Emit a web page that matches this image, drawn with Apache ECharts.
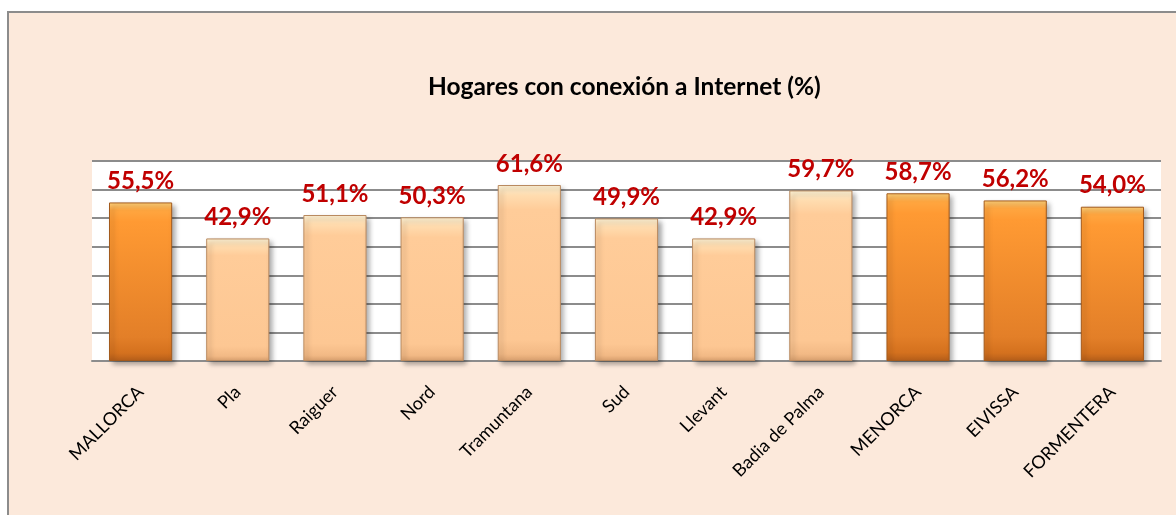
<!DOCTYPE html>
<html>
<head>
<meta charset="utf-8">
<script src="https://cdn.jsdelivr.net/npm/echarts@6/dist/echarts.min.js"></script>
<style>
  html, body { margin: 0; padding: 0; background: #ffffff; width: 1176px; height: 515px; overflow: hidden; }
  #frame { position: absolute; left: 7px; top: 11px; width: 1200px; height: 540px; background: #FCE9DB; border-left: 2px solid #8C8C8C; border-top: 2px solid #8C8C8C; }
  #chart { position: absolute; left: 0; top: 0; width: 1176px; height: 515px; }
</style>
</head>
<body>
<div id="frame"></div>
<div id="chart"></div>
<script>
const categories = ['MALLORCA', 'Pla', 'Raiguer', 'Nord', 'Tramuntana', 'Sud', 'Llevant', 'Badia de Palma', 'MENORCA', 'EIVISSA', 'FORMENTERA'];
const values = [55.5, 42.9, 51.1, 50.3, 61.6, 49.9, 42.9, 59.7, 58.7, 56.2, 54.0];
const isIsland = [true, false, false, false, false, false, false, false, true, true, true];
const titleText = 'Hogares con conexión a Internet (%)';

const orangeFill = new echarts.graphic.LinearGradient(0, 0, 0, 1, [
  { offset: 0, color: '#FFD27A' },
  { offset: 0.05, color: '#FFA640' },
  { offset: 0.12, color: '#FF9A33' },
  { offset: 0.85, color: '#E37F28' },
  { offset: 0.95, color: '#D4711E' },
  { offset: 1, color: '#B55E1A' }
]);
const peachFill = new echarts.graphic.LinearGradient(0, 0, 0, 1, [
  { offset: 0, color: '#FFF4D6' },
  { offset: 0.06, color: '#FFDCAF' },
  { offset: 0.14, color: '#FFCC99' },
  { offset: 0.88, color: '#FDC793' },
  { offset: 0.96, color: '#F2B985' },
  { offset: 1, color: '#D9A06E' }
]);

const chart = echarts.init(document.getElementById('chart'), null, { renderer: 'canvas' });
chart.setOption({
  backgroundColor: 'transparent',
  animation: false,
  title: {
    text: titleText,
    left: 423,
    top: 70,
    textStyle: { fontFamily: 'Lato', fontWeight: 'bold', fontSize: 24.5, color: '#000000' }
  },
  grid: {
    left: 92, right: 15, top: 161, bottom: 154,
    show: true, backgroundColor: '#FFFFFF', borderWidth: 0
  },
  xAxis: {
    type: 'category',
    data: categories,
    axisLine: { lineStyle: { color: '#8C8C8C', width: 2 } },
    axisTick: { show: false },
    axisLabel: {
      rotate: 45, margin: 28, interval: 0,
      fontFamily: 'Lato', fontSize: 18, color: '#000000'
    }
  },
  yAxis: {
    type: 'value',
    min: 0, max: 70, interval: 10,
    axisLine: { show: false },
    axisTick: { show: false },
    axisLabel: { show: false },
    splitLine: { lineStyle: { color: '#8C8C8C', width: 2 } }
  },
  series: [{
    type: 'bar',
    barWidth: '65%',
    data: values.map((v, i) => ({
      value: v,
      itemStyle: {
        color: isIsland[i] ? orangeFill : peachFill,
        borderColor: isIsland[i] ? '#A35A1C' : '#B98A60',
        borderWidth: 1,
        shadowColor: 'rgba(0,0,0,0.35)',
        shadowBlur: 5,
        shadowOffsetX: 3,
        shadowOffsetY: 3
      }
    })),
    label: {
      show: true,
      position: 'top',
      distance: 9,
      formatter: p => p.value.toFixed(1).replace('.', ',') + '%',
      fontFamily: 'Lato', fontWeight: 'bold', fontSize: 24, color: '#C00000'
    }
  }]
});
</script>
</body>
</html>
